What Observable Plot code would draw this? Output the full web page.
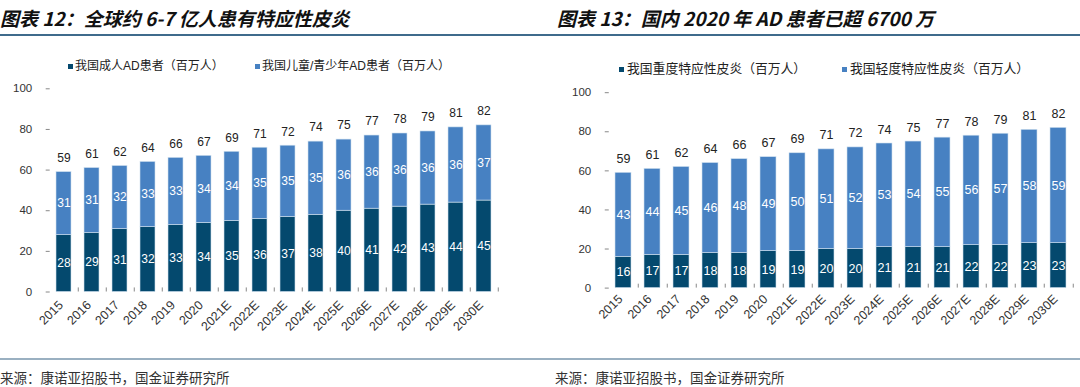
<!DOCTYPE html>
<html><head><meta charset="utf-8">
<script src="https://cdn.jsdelivr.net/npm/d3@7"></script>
<script src="https://cdn.jsdelivr.net/npm/@observablehq/plot@0.6"></script>
<style>
body{margin:0;width:1080px;height:387px;background:#fff;position:relative;overflow:hidden;font-family:"Liberation Sans","Noto Sans CJK SC",sans-serif;}
.title{position:absolute;top:8px;font-family:"Noto Sans CJK SC",sans-serif;font-weight:700;font-style:italic;font-size:19px;line-height:19px;color:#111;white-space:nowrap}
.hr{position:absolute;left:0;width:1080px}
.src{position:absolute;top:370px;font-family:"Noto Sans CJK SC",sans-serif;font-size:13.5px;line-height:14px;color:#333;white-space:nowrap}
.chart{position:absolute;top:40px}
.lg{position:absolute;font-family:"Liberation Sans","Noto Sans CJK SC",sans-serif;color:#222;white-space:nowrap;line-height:14px}
.sw{position:absolute;width:5px;height:5px}
</style></head>
<body>
<div class="title" style="left:0px">图表 12：全球约 6-7 亿人患有特应性皮炎</div>
<div class="title" style="left:557px">图表 13：国内 2020 年 AD 患者已超 6700 万</div>
<div class="hr" style="top:34px;height:1.5px;background:#3f6b8c"></div>
<div class="hr" style="top:358px;height:1.5px;background:#9ab0c1"></div>
<div class="src" style="left:0px">来源：康诺亚招股书，国金证券研究所</div>
<div class="src" style="left:555px">来源：康诺亚招股书，国金证券研究所</div>
<div id="legends"></div>
<div id="c1" class="chart" style="left:0px"></div>
<div id="c2" class="chart" style="left:540px"></div>
<script>
const years = ["2015","2016","2017","2018","2019","2020","2021E","2022E","2023E","2024E","2025E","2026E","2027E","2028E","2029E","2030E"];
const totals = [59,61,62,64,66,67,69,71,72,74,75,77,78,79,81,82];
// Chart 12
const adultAD = [28,29,31,32,33,34,35,36,37,38,40,41,42,43,44,45];
const childAD = [31,31,32,33,33,34,34,35,35,35,36,36,36,36,36,37];
// Chart 13
const severeAD = [16,17,17,18,18,19,19,20,20,21,21,21,22,22,23,23];
const mildAD = [43,44,45,46,48,49,50,51,52,53,54,55,56,57,58,59];
const yTicks = [0,20,40,60,80,100];
const legend12 = ["我国成人AD患者（百万人）","我国儿童/青少年AD患者（百万人）"];
const legend13 = ["我国重度特应性皮炎（百万人）","我国轻度特应性皮炎（百万人）"];

const DARK = "#04496e", LIGHT = "#4781c2";

function chart(lower, upper, o){
  const rows = years.map((yr,i)=>({year:yr, lo:lower[i], hi:upper[i], total:totals[i]}));
  const step = (o.width - o.marginLeft - o.marginRight)/years.length;
  return Plot.plot({
    width:o.width, height:o.height,
    marginLeft:o.marginLeft, marginRight:o.marginRight, marginTop:o.marginTop, marginBottom:o.marginBottom,
    x:{domain:years, paddingInner:o.pad, paddingOuter:o.pad/2, label:null, axis:null},
    y:{domain:[0,100], label:null, axis:null},
    style:{fontFamily:'"Liberation Sans","Noto Sans CJK SC",sans-serif', fontSize:"11.5px", color:"#333", background:"transparent", overflow:"visible"},
    marks:[
      Plot.barY(rows,{x:"year", y1:0, y2:"lo", fill:DARK, stroke:"#cfe0ef", strokeWidth:0.6}),
      Plot.barY(rows,{x:"year", y1:"lo", y2:"total", fill:LIGHT, stroke:"#cfe0ef", strokeWidth:0.6}),
      Plot.text(rows,{x:"year", y:d=>d.lo/2, text:"lo", fill:"white", fontSize:o.fs}),
      Plot.text(rows,{x:"year", y:d=>(d.lo+d.total)/2, text:"hi", fill:"white", fontSize:o.fs}),
      Plot.text(rows,{x:"year", y:"total", text:"total", fill:"#222", fontSize:o.fs, dy:-14}),
      Plot.axisY(yTicks,{tickSize:-4, tickPadding:18, line:true, stroke:"#888", fill:"#333", fontSize:o.tfs}),
      Plot.axisX({tickSize:0, tickPadding:o.xpad, dx:-3, tickRotate:-45, line:true, stroke:"#888", fill:"#333", fontSize:"12.5px"}),
      Plot.ruleX(years,{x:d=>d, y1:0, y2:2, dx:step/2, stroke:"#888"})
    ]
  });
}

document.getElementById("c1").append(chart(adultAD, childAD, {width:540, height:310, marginLeft:45.7, marginRight:37.7, marginTop:48.3, marginBottom:58.5, pad:0.46, fs:"12px", tfs:"11.5px", xpad:11}));
document.getElementById("c2").append(chart(severeAD, mildAD, {width:540, height:310, marginLeft:64.75, marginRight:3.25, marginTop:52.2, marginBottom:62.4, pad:0.44, fs:"12.5px", tfs:"11.5px", xpad:9}));

const L = document.getElementById("legends");
function addLegend(labels, items, fs){
  labels.forEach((t,i)=>{
    const it = items[i];
    const sw = document.createElement("div");
    sw.className="sw"; sw.style.left=it.sx+"px"; sw.style.top=(it.y-2.5)+"px"; sw.style.background=i?LIGHT:DARK;
    const tx = document.createElement("div");
    tx.className="lg"; tx.textContent=t; tx.style.left=it.tx+"px"; tx.style.top=(it.y-7)+"px"; tx.style.fontSize=fs;
    L.append(sw, tx);
  });
}
addLegend(legend12, [{sx:68,tx:75,y:66},{sx:255,tx:262,y:66}], "12px");
addLegend(legend13, [{sx:619,tx:627,y:69},{sx:842,tx:850,y:69}], "12.8px");
</script>
</body></html>
